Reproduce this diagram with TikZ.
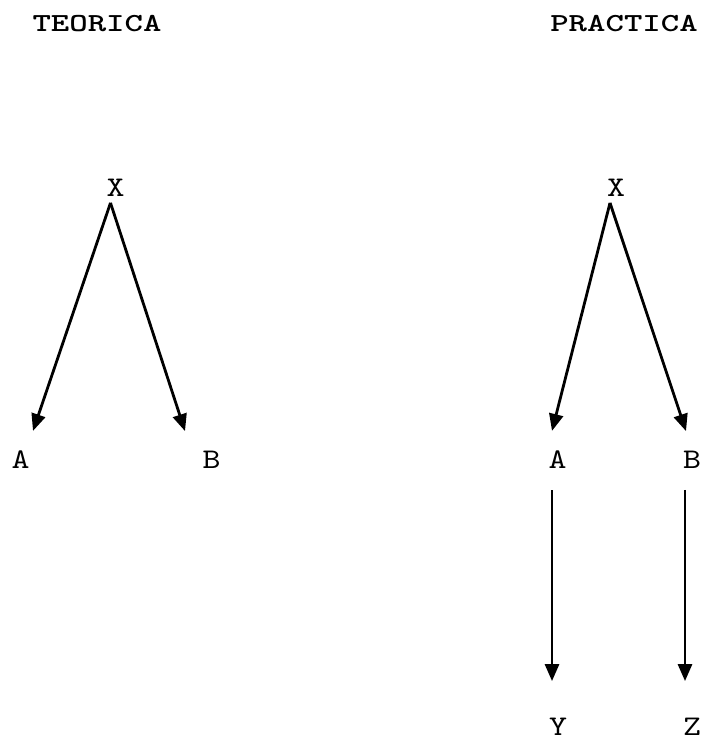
\documentclass[tikz,border=0pt]{standalone}
\usepackage{fontspec}
\usepackage{tikz}
\usetikzlibrary{arrows.meta}
\newfontfamily\courfont{lmmono10-regular.otf}[FakeStretch=1.2]
\newfontfamily\courbold{lmmonolt10-bold.otf}[FakeStretch=1.35]
\tikzset{
  lbl/.style={
    inner sep=0pt,
    font=\courfont\fontsize{28.5}{30}\selectfont
  },
  ttl/.style={
    inner sep=0pt,
    font=\courbold\fontsize{26}{30}\selectfont
  },
  link/.style={
    -{Triangle[length=17pt,width=14pt]},
    line width=2.8pt,
    draw=black
  }
}

\begin{document}
\begin{tikzpicture}[x=1pt, y=-1pt]
  \useasboundingbox (0,0) rectangle (706,743);

  % titles
  \node[ttl] (teo) at (97,24) {TEORICA};
  \node[ttl] (pra) at (624,24) {PRACTICA};

  % teorica
  \node[lbl] (tx) at (115.5,188) {X};
  \node[lbl] (ta) at (20.5,460) {A};
  \node[lbl] (tb) at (211.5,460) {B};

  % practica
  \node[lbl] (px) at (616,188) {X};
  \node[lbl] (pa) at (557.5,460) {A};
  \node[lbl] (pb) at (692,460) {B};
  \node[lbl] (py) at (558,727) {Y};
  \node[lbl] (pz) at (692,727) {Z};

  \draw[link] ([xshift=-5pt,yshift=-6pt]tx.south) -- ([xshift=12.5pt,yshift=20pt]ta.north);
  \draw[link] ([xshift=-5pt,yshift=-6pt]tx.south) -- ([xshift=-26.5pt,yshift=20pt]tb.north);

  \draw[link] ([xshift=-6pt,yshift=-6pt]px.south) -- ([xshift=-5.5pt,yshift=20pt]pa.north);
  \draw[link] ([xshift=-6pt,yshift=-6pt]px.south) -- ([xshift=-6pt,yshift=20pt]pb.north);

  \draw[link] ([xshift=-5.5pt,yshift=-21pt]pa.south) -- ([xshift=-6pt,yshift=37pt]py.north);
  \draw[link] ([xshift=-7pt,yshift=-21pt]pb.south) -- ([xshift=-7pt,yshift=37pt]pz.north);
\end{tikzpicture}
\end{document}
